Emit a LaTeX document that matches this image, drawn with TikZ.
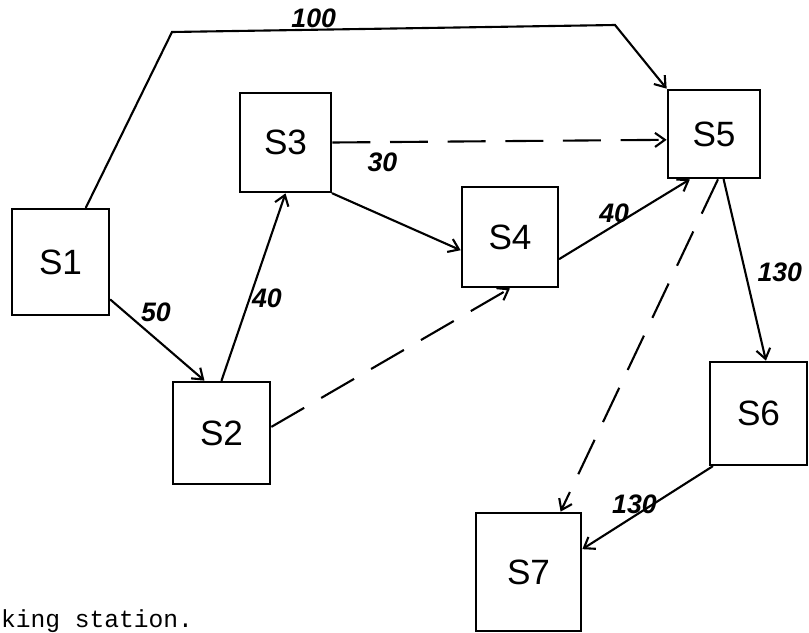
\documentclass[tikz,border=0pt]{standalone}
\usepackage{fontspec}
\setsansfont{Liberation Sans}
\setmonofont{Liberation Mono}
\usetikzlibrary{arrows.meta}

\begin{document}
\begin{tikzpicture}[
	x=0.025cm, y=-0.025cm,
	line width=1.5pt,
	>={Straight Barb[length=7pt,width=10pt]},
	station/.style={ rectangle, draw, line width=1.9pt, inner sep=0pt, font=\sffamily\fontsize{25}{25}\selectfont },
	flow/.style={ ->, line cap=round },
	flowd/.style={ ->, dash pattern=on 27pt off 14pt },
	cost/.style={ inner sep=1pt, font=\sffamily\bfseries\itshape\fontsize{19}{19}\selectfont }
]

\useasboundingbox (0,0) rectangle (809,632);

\node at (60.5,262) (s1) [station, minimum width=2.425cm, minimum height=2.65cm] {S1};
\node at (221.5,433) (s2) [station, minimum width=2.425cm, minimum height=2.55cm] {S2};
\node at (285.5,142.5) (s3) [station, minimum width=2.275cm, minimum height=2.475cm] {S3};
\node at (510,237) (s4) [station, minimum width=2.4cm, minimum height=2.5cm] {S4};
\node at (714,134) (s5) [station, minimum width=2.3cm, minimum height=2.2cm] {S5};
\node at (758.5,413.5) (s6) [station, minimum width=2.425cm, minimum height=2.575cm] {S6};
\node at (528.5,572) (s7) [station, minimum width=2.625cm, minimum height=2.95cm] {S7};

\node at (0,627) (foot) [anchor=base west, inner sep=0pt, font=\ttfamily\fontsize{17.5}{17.5}\selectfont] {king station.};

\draw[flow] (s1.65) -- (172,32) -- node[cost, pos=0.32, above] {100} (615,25) -- (s5.north west);
\draw[flow] (s1.323) to node[cost, pos=0.3, above right] {50} (s2.108);
\draw[flow] (s2.north) to node[cost, pos=0.44, right] {40} (s3.south);
\draw[flowd] (s2.7) to (s4.south);
\draw[flow] (s3.south east) to (s4.195);
\draw[flowd] (s3.east) to node[cost, pos=0.15, below=6pt] {30} (s5.187);
\draw[flow] (s4.336) to node[cost, pos=0.42, above] {40} (s5.242);
\draw[flow] (s5.282) to node[cost, pos=0.51, right=7pt] {130} (s6.82);
\draw[flowd] (s5.275) to (s7.62);
\draw[flow] (s6.229) to node[cost, pos=0.6, above] {130} (s7.23);

\end{tikzpicture}
\end{document}
